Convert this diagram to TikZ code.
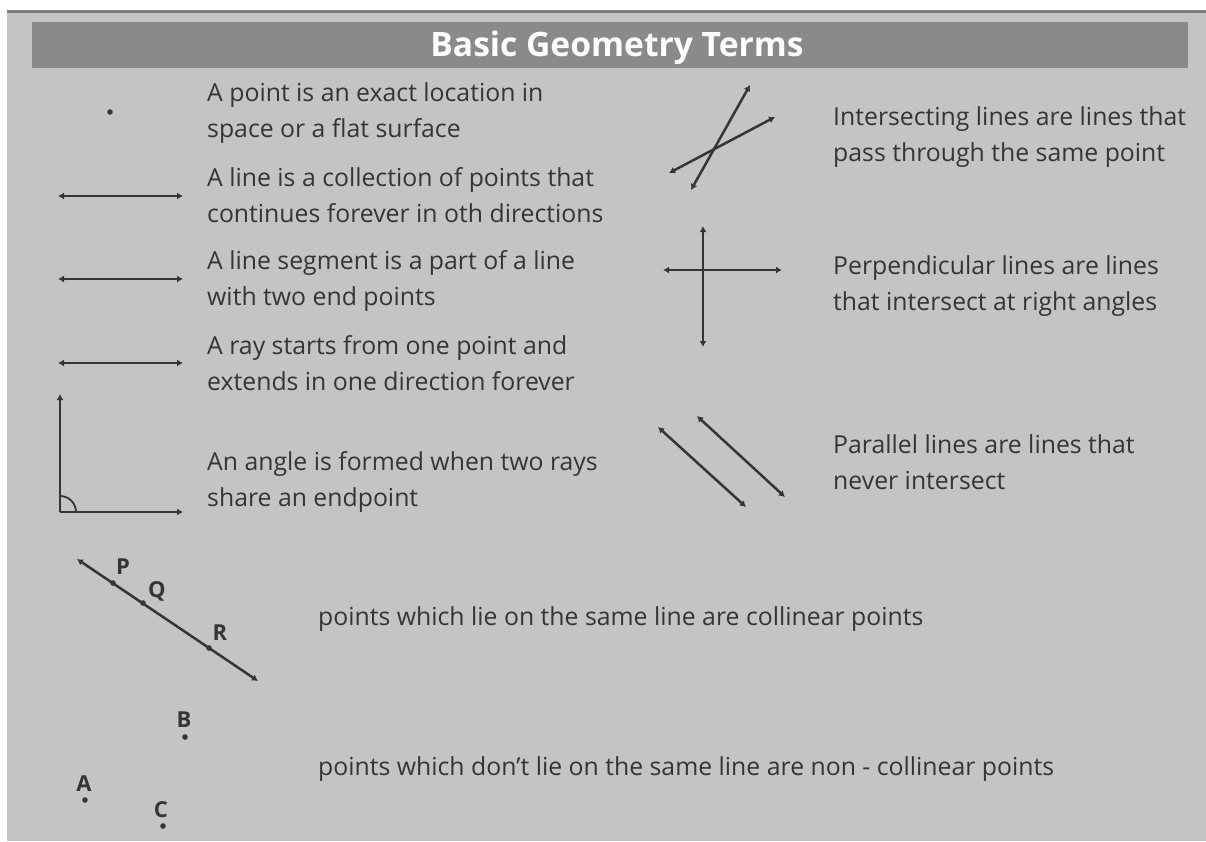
\documentclass[tikz,border=0pt]{standalone}
\usepackage{fontspec}
\setmainfont{Open Sans}
\usepackage{xcolor}
\usetikzlibrary{arrows.meta}
\definecolor{panelgray}{HTML}{C4C4C4}
\definecolor{bargray}{HTML}{8A8A8A}
\definecolor{rimgray}{HTML}{7C7C7C}
\definecolor{inkgray}{HTML}{353535}

\begin{document}
\begin{tikzpicture}[x=1pt, y=-1pt, >={Latex[length=6pt,width=7pt]},
  every node/.style={font=\fontsize{24.8}{35.5}\selectfont, text=inkgray, inner sep=0pt},
  term/.style={anchor=west, align=left},
  geo/.style={draw=inkgray, line width=2.5pt},
  lbl/.style={font=\fontsize{22}{24}\selectfont\bfseries}]
  \useasboundingbox (0,0) rectangle (1206,841);
  \fill[white] (0,0) rectangle (1206,841);
  \fill[panelgray] (7,10) rectangle (1206,841);
  \draw[rimgray, line width=3pt] (7,11) -- (1206,11);
  \fill[bargray] (32,22) rectangle (1188,68);
  \node[font=\fontsize{33.6}{36}\selectfont\bfseries, text=white] (title) at (617,48) {Basic Geometry Terms};

  % left column
  \fill[inkgray] (110,112) circle[radius=2.8];
  \node[term] (pointtxt) at (207,113) {A point is an exact location in\\space or a flat surface};

  \coordinate (lineL) at (58,196);
  \coordinate (lineR) at (183,196);
  \draw[geo, <->] (lineL) -- (lineR);
  \node[term] (linetxt) at (207,195) {A line is a collection of points that\\continues forever in oth directions};

  \coordinate (segL) at (58,279);
  \coordinate (segR) at (183,279);
  \draw[geo, <->] (segL) -- (segR);
  \node[term] (segtxt) at (207,281) {A line segment is a part of a line\\with two end points};

  \coordinate (rayL) at (58,363);
  \coordinate (rayR) at (183,363);
  \draw[geo, <->] (rayL) -- (rayR);
  \node[term] (raytxt) at (207,363) {A ray starts from one point and\\extends in one direction forever};

  \coordinate (angV) at (60,512);
  \coordinate (angU) at (60,394);
  \coordinate (angR) at (183,512);
  \draw[geo, ->] (angV) -- (angU);
  \draw[geo, ->] (angV) -- (angR);
  \draw[inkgray, line width=1.8pt] (76,512) arc[start angle=0, end angle=-90, radius=16];
  \node[term] (angtxt) at (207,482) {An angle is formed when two rays\\share an endpoint};

  % right column
  \coordinate (intA1) at (750,85);
  \coordinate (intA2) at (691,190);
  \coordinate (intB1) at (669,173);
  \coordinate (intB2) at (775,117);
  \draw[geo, <->] (intA2) -- (intA1);
  \draw[geo, <->] (intB1) -- (intB2);
  \node[term] (inttxt) at (833,137) {Intersecting lines are lines that\\pass through the same point};

  \coordinate (perpT) at (703,226);
  \coordinate (perpB) at (703,347);
  \coordinate (perpL) at (663,270);
  \coordinate (perpR) at (782,270);
  \draw[geo, <->] (perpT) -- (perpB);
  \draw[geo, <->] (perpL) -- (perpR);
  \node[term] (perptxt) at (833,286) {Perpendicular lines are lines\\that intersect at right angles};

  \coordinate (parA1) at (658,427);
  \coordinate (parA2) at (746,507);
  \coordinate (parB1) at (697,416);
  \coordinate (parB2) at (785,497);
  \draw[geo, <->] (parA1) -- (parA2);
  \draw[geo, <->] (parB1) -- (parB2);
  \node[term] (partxt) at (833,462) {Parallel lines are lines that\\never intersect};

  % collinear points
  \coordinate (colS) at (77,559);
  \coordinate (colE) at (258,681);
  \draw[geo, <->] (colS) -- (colE);
  \fill[inkgray] (113,583) circle[radius=2.8];
  \fill[inkgray] (143,603) circle[radius=2.8];
  \fill[inkgray] (209,648) circle[radius=2.8];
  \node[lbl] (P) at (123,567) {P};
  \node[lbl] (Q) at (157,591) {Q};
  \node[lbl] (R) at (220,633) {R};
  \node[term] (coltxt) at (318,619) {points which lie on the same line are collinear points};

  % non-collinear points
  \fill[inkgray] (185,737) circle[radius=2.8];
  \fill[inkgray] (85,800) circle[radius=2.8];
  \fill[inkgray] (163,826) circle[radius=2.8];
  \node[lbl] (B) at (184,720) {B};
  \node[lbl] (A) at (84,784) {A};
  \node[lbl] (C) at (161,810) {C};
  \node[term] (noncoltxt) at (318,769) {points which don’t lie on the same line are non - collinear points};
\end{tikzpicture}
\end{document}
